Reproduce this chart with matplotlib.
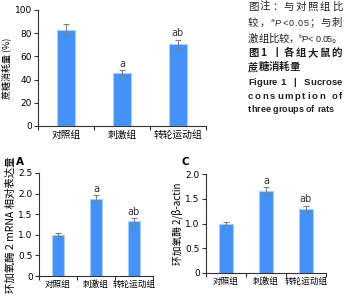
import matplotlib
matplotlib.use('Agg')
import matplotlib.pyplot as plt

plt.rcParams['font.family'] = ['Noto Sans CJK SC', 'DejaVu Sans']

# 数据
groups = ['对照组', '刺激组', '转轮运动组']
sucrose = [83, 46, 71]
sucrose_err = [4.5, 2.5, 3.5]
sucrose_sig = ['', 'a', 'ab']

cox2_mrna = [1.0, 1.88, 1.33]
cox2_mrna_err = [0.04, 0.09, 0.07]
cox2_mrna_sig = ['', 'a', 'ab']

cox2_prot = [1.0, 1.65, 1.30]
cox2_prot_err = [0.04, 0.08, 0.06]
cox2_prot_sig = ['', 'a', 'ab']

W, H = 346, 300
fig = plt.figure(figsize=(W / 100, H / 100), dpi=100)
BAR = '#4492f7'
EDGE = '#a9cdfb'


def px_axes(left, right, top, bottom):
    return fig.add_axes([left / W, 1 - bottom / H, (right - left) / W, (bottom - top) / H])


def draw(ax, vals, errs, sig, ylim, yticks, yticklabels, ylabel, ylab_size, xlab_size, sig_off):
    x = range(len(vals))
    ax.bar(x, vals, width=0.33, color=BAR, edgecolor=EDGE, linewidth=0.8, zorder=2)
    ax.errorbar(x, vals, yerr=errs, fmt='none', ecolor='#808080', elinewidth=0.8,
                capsize=2, capthick=0.8, zorder=3)
    for i, s in enumerate(sig):
        if s:
            ax.text(i, vals[i] + errs[i] + sig_off, s, ha='center', va='bottom',
                    fontsize=7, color='#333333', family='DejaVu Sans')
    ax.set_xlim(-0.5, len(vals) - 0.5)
    ax.set_ylim(*ylim)
    ax.set_yticks(yticks)
    ax.set_yticklabels(yticklabels, fontsize=6.5, family='DejaVu Sans')
    ax.set_xticks([-0.5, 0.5, 1.5, 2.5])
    ax.set_xticklabels([])
    ax.set_xticks(list(x), minor=True)
    ax.set_xticklabels(groups, minor=True, fontsize=xlab_size)
    ax.tick_params(axis='x', which='minor', length=0, pad=3)
    ax.tick_params(axis='x', which='major', length=3, width=0.8, color='#333333')
    ax.tick_params(axis='y', length=3, width=0.8, color='#333333', pad=1.5)
    for s in ['top', 'right']:
        ax.spines[s].set_visible(False)
    for s in ['left', 'bottom']:
        ax.spines[s].set_linewidth(0.8)
        ax.spines[s].set_color('#333333')
    ax.set_ylabel(ylabel, fontsize=ylab_size, labelpad=2)


ax1 = px_axes(38, 206, 10, 126)
draw(ax1, sucrose, sucrose_err, sucrose_sig, (0, 100), [0, 20, 40, 60, 80, 100],
     ['0', '20', '40', '60', '80', '100'], '蔗糖消耗量 (%)', 6.5, 7, 1)

ax2 = px_axes(39, 153, 173, 276)
draw(ax2, cox2_mrna, cox2_mrna_err, cox2_mrna_sig, (0, 2.5), [0, 0.5, 1.0, 1.5, 2.0, 2.5],
     ['0', '0.5', '1.0', '1.5', '2.0', '2.5'], '环加氧酶 2 mRNA 相对表达量', 7.5, 6.2, 0.03)

ax3 = px_axes(206, 326, 174, 273)
draw(ax3, cox2_prot, cox2_prot_err, cox2_prot_sig, (0, 2.0), [0, 0.5, 1.0, 1.5, 2.0],
     ['0', '0.5', '1.0', '1.5', '2.0'], '环加氧酶 2/β-actin', 7, 6.2, 0.03)

fig.text(20 / W, 1 - 162 / H, 'A', fontsize=7.5, fontweight='bold', family='DejaVu Sans',
         ha='center', va='center')
fig.text(185 / W, 1 - 162 / H, 'C', fontsize=7.5, fontweight='bold', family='DejaVu Sans',
         ha='center', va='center')

# 图注：逐字排版，两端对齐
renderer = fig.canvas.get_renderer()


def line(x_px, y_px, parts, target=None):
    chars = []
    for txt, kw in parts:
        for ch in txt:
            chars.append((ch, kw))
    widths = []
    for ch, kw in chars:
        kw2 = {k: v for k, v in kw.items() if k != 'dy'}
        t = fig.text(0, 0, ch, **kw2)
        widths.append(t.get_window_extent(renderer).width)
        t.remove()
    gap = 0
    if target is not None and len(chars) > 1:
        gap = (target - sum(widths)) / (len(chars) - 1)
    x = x_px
    for (ch, kw), w in zip(chars, widths):
        kw2 = dict(kw)
        dy = kw2.pop('dy', 0)
        fig.text(x / W, 1 - (y_px + dy) / H, ch, ha='left', va='center',
                 color='#222222', **kw2)
        x += w + gap


cn = dict(fontsize=7.5)
sup = dict(fontsize=4.5, family='DejaVu Sans', dy=-3)
ital = dict(fontsize=6.5, family='Liberation Sans', style='italic')
num = dict(fontsize=6.5, family='Liberation Sans')
x0, full = 248, 94
line(x0, 7, [('图注：与对照组比', cn)], full)
line(x0, 23, [('较，', cn), ('a', sup), ('P', ital), ('<0.05', num), ('；与刺', cn)], full)
line(x0, 39, [('激组比较，', cn), ('b', sup), ('P', ital), ('< 0.05', num), ('。', cn)], full)
bcn = dict(fontsize=7.5, fontweight='bold')
line(x0, 53, [('图1 丨各组大鼠的', bcn)], full)
line(x0, 67, [('蔗糖消耗量', bcn)])
ben = dict(fontsize=6.8, fontweight='bold', family='Liberation Sans')
line(x0, 83, [('Figure 1   |   Sucrose', ben)], full)
line(x0, 97, [('consumption of', ben)], full)
line(x0, 110, [('three groups of rats', dict(fontsize=6.5, fontweight='bold',
                                           family='Liberation Sans'))])

fig.savefig('out.png', dpi=100)
